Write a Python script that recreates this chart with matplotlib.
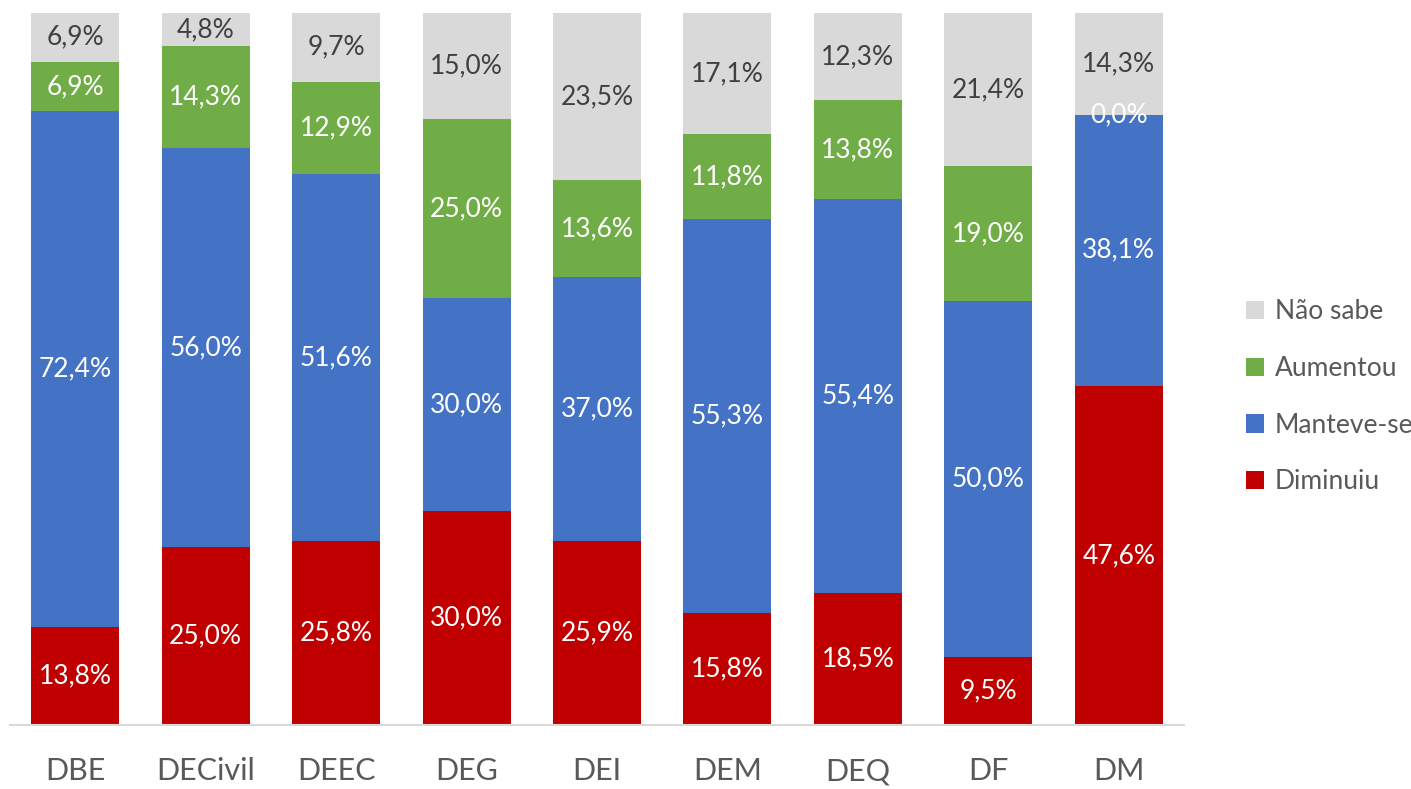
import numpy as np
import matplotlib.pyplot as plt

# data (percentages per department)
departamentos = ['DBE', 'DECivil', 'DEEC', 'DEG', 'DEI', 'DEM', 'DEQ', 'DF', 'DM']
diminuiu = [13.8, 25.0, 25.8, 30.0, 25.9, 15.8, 18.5, 9.5, 47.6]
manteve = [72.4, 56.0, 51.6, 30.0, 37.0, 55.3, 55.4, 50.0, 38.1]
aumentou = [6.9, 14.3, 12.9, 25.0, 13.6, 11.8, 13.8, 19.0, 0.0]
nao_sabe = [6.9, 4.8, 9.7, 15.0, 23.5, 17.1, 12.3, 21.4, 14.3]

series = [
    ('Diminuiu', diminuiu, '#C00000', 'white'),
    ('Manteve-se', manteve, '#4472C4', 'white'),
    ('Aumentou', aumentou, '#70AD47', 'white'),
    ('Não sabe', nao_sabe, '#D9D9D9', '#404040'),
]

plt.rcParams['font.family'] = ['Lato', 'DejaVu Sans']

fig = plt.figure(figsize=(14.11, 7.89), dpi=100)
ax = fig.add_axes([0.0071, 0.081, 0.832, 0.903])

x = np.arange(len(departamentos))
bottom = np.zeros(len(departamentos))
handles = []
for nome, vals, cor, cor_txt in series:
    vals = np.array(vals)
    b = ax.bar(x, vals, 0.674, bottom=bottom, color=cor, label=nome)
    handles.append(b)
    labels = [f'{v:.1f}%'.replace('.', ',') for v in vals]
    ax.bar_label(b, labels=labels, label_type='center', color=cor_txt, fontsize=19)
    bottom += vals

ax.set_xlim(-0.5, 8.5)
ax.set_ylim(0, 100)
ax.set_xticks(x)
ax.set_xticklabels(departamentos, fontsize=22, color='#595959')
ax.tick_params(axis='x', length=0, pad=23)
ax.set_yticks([])
for s in ['top', 'right', 'left']:
    ax.spines[s].set_visible(False)
ax.spines['bottom'].set_color('#D9D9D9')
ax.spines['bottom'].set_linewidth(1.5)

leg = fig.legend(handles[::-1], [s[0] for s in series][::-1], loc='center left',
                 bbox_to_anchor=(0.866, 0.497), frameon=False, fontsize=19,
                 labelspacing=1.2, handlelength=0.7, handleheight=0.7,
                 handletextpad=0.4)
for t in leg.get_texts():
    t.set_color('#595959')

plt.savefig('out.png', dpi=100)
